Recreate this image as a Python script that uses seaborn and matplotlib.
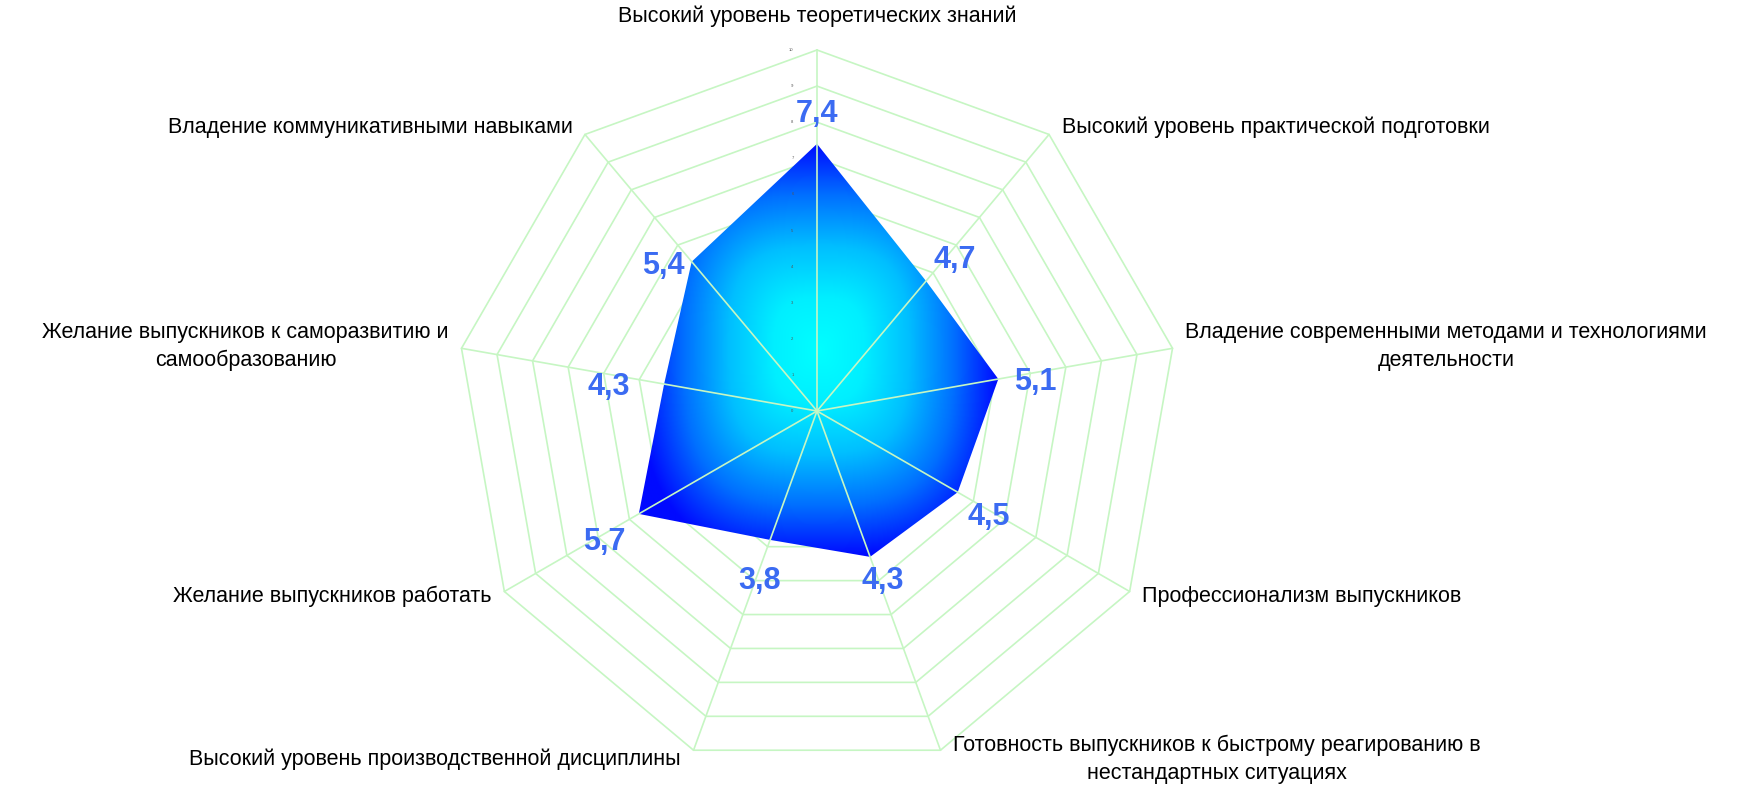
import numpy as np
import matplotlib
matplotlib.use("Agg")
import matplotlib.pyplot as plt
import seaborn as sns
from matplotlib.patches import Polygon

# data
categories = [
    "Высокий уровень теоретических знаний",
    "Высокий уровень практической подготовки",
    "Владение современными методами и технологиями\nдеятельности",
    "Профессионализм выпускников",
    "Готовность выпускников к быстрому реагированию в\nнестандартных ситуациях",
    "Высокий уровень производственной дисциплины",
    "Желание выпускников работать",
    "Желание выпускников к саморазвитию и\nсамообразованию",
    "Владение коммуникативными навыками",
]
values = [7.4, 4.7, 5.1, 4.5, 4.3, 3.8, 5.7, 4.3, 5.4]
value_labels = ["7,4", "4,7", "5,1", "4,5", "4,3", "3,8", "5,7", "4,3", "5,4"]
ticks = list(range(0, 11))

# where each value label sits relative to its point (pixels)
label_shift = [(0, 33), (29, 25), (37, 1), (31, -21), (13, -21),
               (-11, -38), (-34, -25), (-55, 1), (-28, -1)]

sns.set_theme(style="white")
plt.rcParams['font.family'] = ['Liberation Sans', 'DejaVu Sans']

grid_color = '#c6f6c3'
label_color = '#3b6bf2'
# cyan in the middle, blue at the rim (green channel falls roughly like 1 - t^2)
cmap = sns.blend_palette(['#00ffff', '#00efff', '#00bfff', '#0070ff', '#000aff'], as_cmap=True)

n = len(categories)
angles = np.arange(n) * 2 * np.pi / n
rmax = ticks[-1]


def to_xy(r, a):
    return np.asarray(r) * np.sin(a), np.asarray(r) * np.cos(a)


fig = plt.figure(figsize=(17.42, 7.89), dpi=100)
ax = fig.add_axes([0, 0, 1, 1])
px = 36.1  # pixels per unit
cx, cy = 817, 411
ax.set_xlim(-cx / px, (1742 - cx) / px)
ax.set_ylim(-(789 - cy) / px, cy / px)
ax.axis('off')

# rings
ring_a = np.append(angles, angles[0])
for t in ticks[1:]:
    x, y = to_xy(np.full(len(ring_a), t), ring_a)
    ax.plot(x, y, color=grid_color, lw=1.2, zorder=1)

# filled area with a "from centre" gradient over the shape's bounding box
vx, vy = to_xy(values, angles)
poly = Polygon(np.column_stack([vx, vy]), closed=True, facecolor='none', edgecolor='none')
ax.add_patch(poly)

gx = np.linspace(vx.min(), vx.max(), 500)
gy = np.linspace(vy.min(), vy.max(), 500)
X, Y = np.meshgrid(gx, gy)
mx, my = (vx.max() + vx.min()) / 2, (vy.max() + vy.min()) / 2
hx, hy = (vx.max() - vx.min()) / 2, (vy.max() - vy.min()) / 2
p = 3
frac = ((np.abs(X - mx) / hx) ** p + (np.abs(Y - my) / hy) ** p) ** (1 / p)
frac = np.clip(frac, 0, 1)
im = ax.imshow(frac, extent=(gx[0], gx[-1], gy[0], gy[-1]), origin='lower',
               cmap=cmap, vmin=0, vmax=1, zorder=2, interpolation='bilinear', aspect='auto')
im.set_clip_path(poly)

# spokes
for ang in angles:
    x, y = to_xy([0, rmax], ang)
    ax.plot(x, y, color=grid_color, lw=1.2, zorder=3)

# tiny radial tick labels
for t in ticks:
    ax.text(-0.65, t, str(t), fontsize=3, color='#555555', ha='right', va='center', zorder=4)

# value labels
for v, lab, ang, sh in zip(values, value_labels, angles, label_shift):
    x, y = to_xy(v, ang)
    ax.annotate(lab, (x, y), xytext=(sh[0] * 0.72, sh[1] * 0.72), textcoords='offset points',
                fontsize=22, fontweight='bold', color=label_color,
                ha='center', va='center_baseline', zorder=5)

# category labels
for cat, ang in zip(categories, angles):
    x, y = to_xy(rmax, ang)
    s = np.sin(ang)
    if abs(s) < 0.1:
        ha, dx, dy = 'center', 0, 24 if np.cos(ang) > 0 else -24
    else:
        ha = 'left' if s > 0 else 'right'
        dx = 9 if s > 0 else -9
        dy = 7 * np.cos(ang)
    ax.annotate(cat, (x, y), xytext=(dx, dy), textcoords='offset points',
                ha=ha, va='center', multialignment='center', fontsize=15.5,
                linespacing=1.45, color='black', zorder=5)

fig.savefig('out.png', dpi=100)
